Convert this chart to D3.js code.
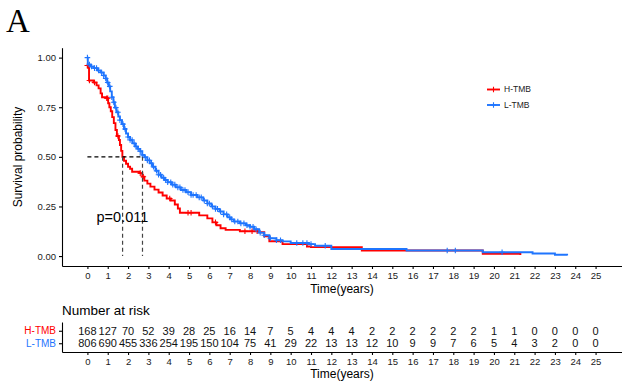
<!DOCTYPE html>
<html>
<head>
<meta charset="utf-8">
<script src="https://cdn.jsdelivr.net/npm/d3@7"></script>
<style>
  body { margin: 0; background: #fff; }
  svg { display: block; font-family: "Liberation Sans", Arial, sans-serif; }
  .axis text { fill: #1a1a1a; font-size: 9.5px; }
  .axis path, .axis line { stroke: #000; stroke-width: 1.1; }
</style>
</head>
<body>
<div id="chart"></div>
<script>
const W = 622
const H = 387

const groups = ['H-TMB', 'L-TMB']
const colors = ['#ff0000', '#1f75fe']

// KM steps: [time (years), survival after step]
const stepsH = [
  [0, 0.96], [0.02, 0.95], [0.08, 0.885], [0.3, 0.875], [0.45, 0.86], [0.55, 0.845],
  [0.65, 0.82], [0.72, 0.80], [0.95, 0.795], [1.02, 0.77], [1.08, 0.75], [1.15, 0.73],
  [1.22, 0.70], [1.3, 0.67], [1.38, 0.635], [1.45, 0.605], [1.55, 0.585], [1.6, 0.56],
  [1.66, 0.53], [1.72, 0.50], [1.8, 0.48], [1.9, 0.465], [2.0, 0.45], [2.1, 0.44],
  [2.2, 0.425], [2.55, 0.418], [2.7, 0.40], [2.8, 0.38], [2.95, 0.365], [3.1, 0.35],
  [3.3, 0.335], [3.5, 0.32], [3.7, 0.305], [3.9, 0.29], [4.1, 0.28], [4.3, 0.26],
  [4.45, 0.24], [4.55, 0.218], [5.5, 0.205], [5.9, 0.19], [6.15, 0.17], [6.35, 0.155],
  [6.55, 0.14], [6.8, 0.132], [7.5, 0.125], [8.4, 0.12], [8.7, 0.10], [8.95, 0.075],
  [9.6, 0.06], [10.8, 0.048], [11.0, 0.045], [13.5, 0.028], [19.45, 0.012], [21.3, 0.005]
]
const stepsL = [
  [0, 1.0], [0.02, 0.965], [0.15, 0.955], [0.3, 0.947], [0.5, 0.935], [0.65, 0.925],
  [0.8, 0.91], [0.9, 0.895], [0.97, 0.875], [1.05, 0.855], [1.12, 0.83], [1.2, 0.80],
  [1.28, 0.775], [1.35, 0.748], [1.43, 0.725], [1.52, 0.703], [1.6, 0.685], [1.7, 0.665],
  [1.8, 0.64], [1.9, 0.618], [2.0, 0.60], [2.1, 0.585], [2.22, 0.568], [2.35, 0.552],
  [2.48, 0.54], [2.6, 0.528], [2.7, 0.51], [2.8, 0.498], [2.95, 0.482], [3.07, 0.468],
  [3.2, 0.45], [3.35, 0.43], [3.5, 0.41], [3.65, 0.395], [3.8, 0.383], [3.95, 0.372],
  [4.15, 0.36], [4.35, 0.346], [4.6, 0.333], [4.85, 0.322], [5.1, 0.308], [5.4, 0.296],
  [5.7, 0.28], [5.9, 0.265], [6.1, 0.25], [6.3, 0.238], [6.5, 0.225], [6.7, 0.21],
  [6.9, 0.195], [7.05, 0.185], [7.2, 0.174], [7.5, 0.165], [7.8, 0.155], [8.0, 0.148],
  [8.2, 0.135], [8.45, 0.118], [8.7, 0.105], [8.95, 0.09], [9.3, 0.08], [9.6, 0.074],
  [10.0, 0.066], [10.9, 0.06], [11.2, 0.052], [12.0, 0.036], [15.7, 0.028],
  [19.45, 0.019], [21.9, 0.013], [23.0, 0.007], [23.6, 0.003]
]

// censoring times
const censorH = [0, 0.01, 0.1, 0.35, 0.95, 1.0, 1.5, 2.6, 2.75, 4.05, 4.95, 5.1, 6.3, 7.75, 8.1, 8.35]
const censorL = [
  0, 0.1, 0.2, 0.35, 0.45, 0.55, 0.7, 0.8, 0.9, 1.0, 1.1, 1.2, 1.3, 1.4, 1.5, 1.6, 1.75,
  1.85, 2.0, 2.1, 2.2, 2.3, 2.4, 2.5, 2.6, 2.7, 2.85, 2.95, 3.05, 3.15, 3.25, 3.4, 3.5,
  3.6, 3.75, 3.85, 3.95, 4.1, 4.2, 4.3, 4.45, 4.55, 4.7, 4.8, 4.95, 5.1, 5.2, 5.35, 5.5,
  5.6, 5.75, 5.9, 6.0, 6.15, 6.3, 6.4, 6.55, 6.7, 6.85, 7.0, 7.1, 7.25, 7.4, 7.55, 7.7,
  7.85, 8.0, 8.15, 8.3, 8.5, 8.7, 9.0, 9.3, 9.5, 10.3, 10.6, 10.8, 11.0, 11.7, 17.7,
  18.1, 20.4
]

const medians = [1.73, 2.71]
const pValue = 'p=0.011'

const timeTicks = d3.range(0, 26)
const riskH = [168, 127, 70, 52, 39, 28, 25, 16, 14, 7, 5, 4, 4, 4, 2, 2, 2, 2, 2, 2, 1, 1, 0, 0, 0, 0]
const riskL = [806, 690, 455, 336, 254, 195, 150, 104, 75, 41, 29, 22, 13, 13, 12, 10, 9, 9, 7, 6, 5, 4, 3, 2, 0, 0]

const svg = d3.select('#chart')
  .append('svg')
  .attr('width', W)
  .attr('height', H)

svg.append('rect').attr('width', W).attr('height', H).attr('fill', '#fff')

const x = d3.scaleLinear().domain([-1.25, 26.3]).range([62, 622])
const y = d3.scaleLinear().domain([-0.05, 1.05]).range([266, 47.7])

// panel letter
svg.append('text')
  .attr('x', 6)
  .attr('y', 32)
  .style('font-family', '"Liberation Serif", "Times New Roman", serif')
  .style('font-size', '33px')
  .text('A')

// axes
svg.append('g')
  .attr('class', 'axis')
  .attr('transform', 'translate(62,0)')
  .call(d3.axisLeft(y).tickValues([0, 0.25, 0.5, 0.75, 1]).tickFormat(d3.format('.2f')).tickSize(3).tickSizeOuter(0))

svg.append('g')
  .attr('class', 'axis')
  .attr('transform', 'translate(0,266)')
  .call(d3.axisBottom(x).tickValues(timeTicks).tickSize(3).tickSizeOuter(0))

svg.append('text')
  .attr('transform', 'translate(22,157) rotate(-90)')
  .attr('text-anchor', 'middle')
  .style('font-size', '12px')
  .text('Survival probability')

svg.append('text')
  .attr('x', 342)
  .attr('y', 293)
  .attr('text-anchor', 'middle')
  .style('font-size', '12px')
  .text('Time(years)')

// curves
function survAt(steps, t) {
  let s = steps[0][1]
  steps.forEach(d => { if (d[0] <= t) s = d[1] })
  return s
}

const line = d3.line()
  .x(d => x(d[0]))
  .y(d => y(d[1]))
  .curve(d3.curveStepAfter)

const series = [
  { name: groups[0], steps: stepsH, censor: censorH, color: colors[0] },
  { name: groups[1], steps: stepsL, censor: censorL, color: colors[1] }
]

const plus = 'M-2.8,0H2.8M0,-2.8V2.8'

series.forEach(s => {
  svg.append('path')
    .datum(s.steps)
    .attr('d', line)
    .attr('fill', 'none')
    .attr('stroke', s.color)
    .attr('stroke-width', 1.9)

  svg.append('g')
    .selectAll('path')
    .data(s.censor)
    .enter()
    .append('path')
    .attr('transform', t => `translate(${x(t)},${y(survAt(s.steps, t))})`)
    .attr('d', plus)
    .attr('stroke', s.color)
    .attr('stroke-width', 1.1)
})

// median lines
svg.append('line')
  .attr('x1', x(0)).attr('x2', x(d3.max(medians)))
  .attr('y1', y(0.5)).attr('y2', y(0.5))
  .attr('stroke', '#000')
  .attr('stroke-width', 1.3)
  .attr('stroke-dasharray', '4,3')

svg.append('g')
  .selectAll('line')
  .data(medians)
  .enter()
  .append('line')
  .attr('x1', d => x(d)).attr('x2', d => x(d))
  .attr('y1', y(0.5)).attr('y2', y(0))
  .attr('stroke', '#444')
  .attr('stroke-width', 1.2)
  .attr('stroke-dasharray', '4,3')

svg.append('text')
  .attr('x', x(0.45))
  .attr('y', 222)
  .style('font-size', '14.5px')
  .text(pValue)

// legend
const legend = svg.append('g')
  .selectAll('g')
  .data(series)
  .enter()
  .append('g')
  .attr('transform', (d, i) => `translate(487,${89.5 + i * 15.5})`)

legend.append('line')
  .attr('x1', 0).attr('x2', 13)
  .attr('stroke', d => d.color)
  .attr('stroke-width', 1.9)
legend.append('path')
  .attr('transform', 'translate(6.5,0)')
  .attr('d', plus)
  .attr('stroke', d => d.color)
  .attr('stroke-width', 1.1)
legend.append('text')
  .attr('x', 17)
  .attr('dy', '0.35em')
  .style('font-size', '8.5px')
  .style('fill', '#222')
  .text(d => d.name)

// risk table
svg.append('text')
  .attr('x', 62)
  .attr('y', 315)
  .style('font-size', '13.5px')
  .text('Number at risk')

const yr = d3.scalePoint().domain(groups).range([322, 352]).padding(0.7)

const riskAxis = svg.append('g')
  .attr('class', 'axis')
  .attr('transform', 'translate(62,0)')
  .call(d3.axisLeft(yr).tickSize(3).tickSizeOuter(0))
riskAxis.selectAll('text')
  .style('font-size', '10px')
  .style('fill', (d, i) => colors[i])

svg.append('g')
  .attr('class', 'axis')
  .attr('transform', 'translate(0,352)')
  .call(d3.axisBottom(x).tickValues(timeTicks).tickSize(3).tickSizeOuter(0))

const rows = [riskH, riskL]
rows.forEach((row, r) => {
  svg.append('g')
    .selectAll('text')
    .data(row)
    .enter()
    .append('text')
    .attr('x', (d, i) => x(timeTicks[i]))
    .attr('y', yr(groups[r]))
    .attr('dy', '0.36em')
    .attr('text-anchor', 'middle')
    .style('font-size', '11px')
    .style('fill', '#111')
    .text(d => d)
})

svg.append('text')
  .attr('x', 342)
  .attr('y', 378)
  .attr('text-anchor', 'middle')
  .style('font-size', '12px')
  .text('Time(years)')
</script>
</body>
</html>
